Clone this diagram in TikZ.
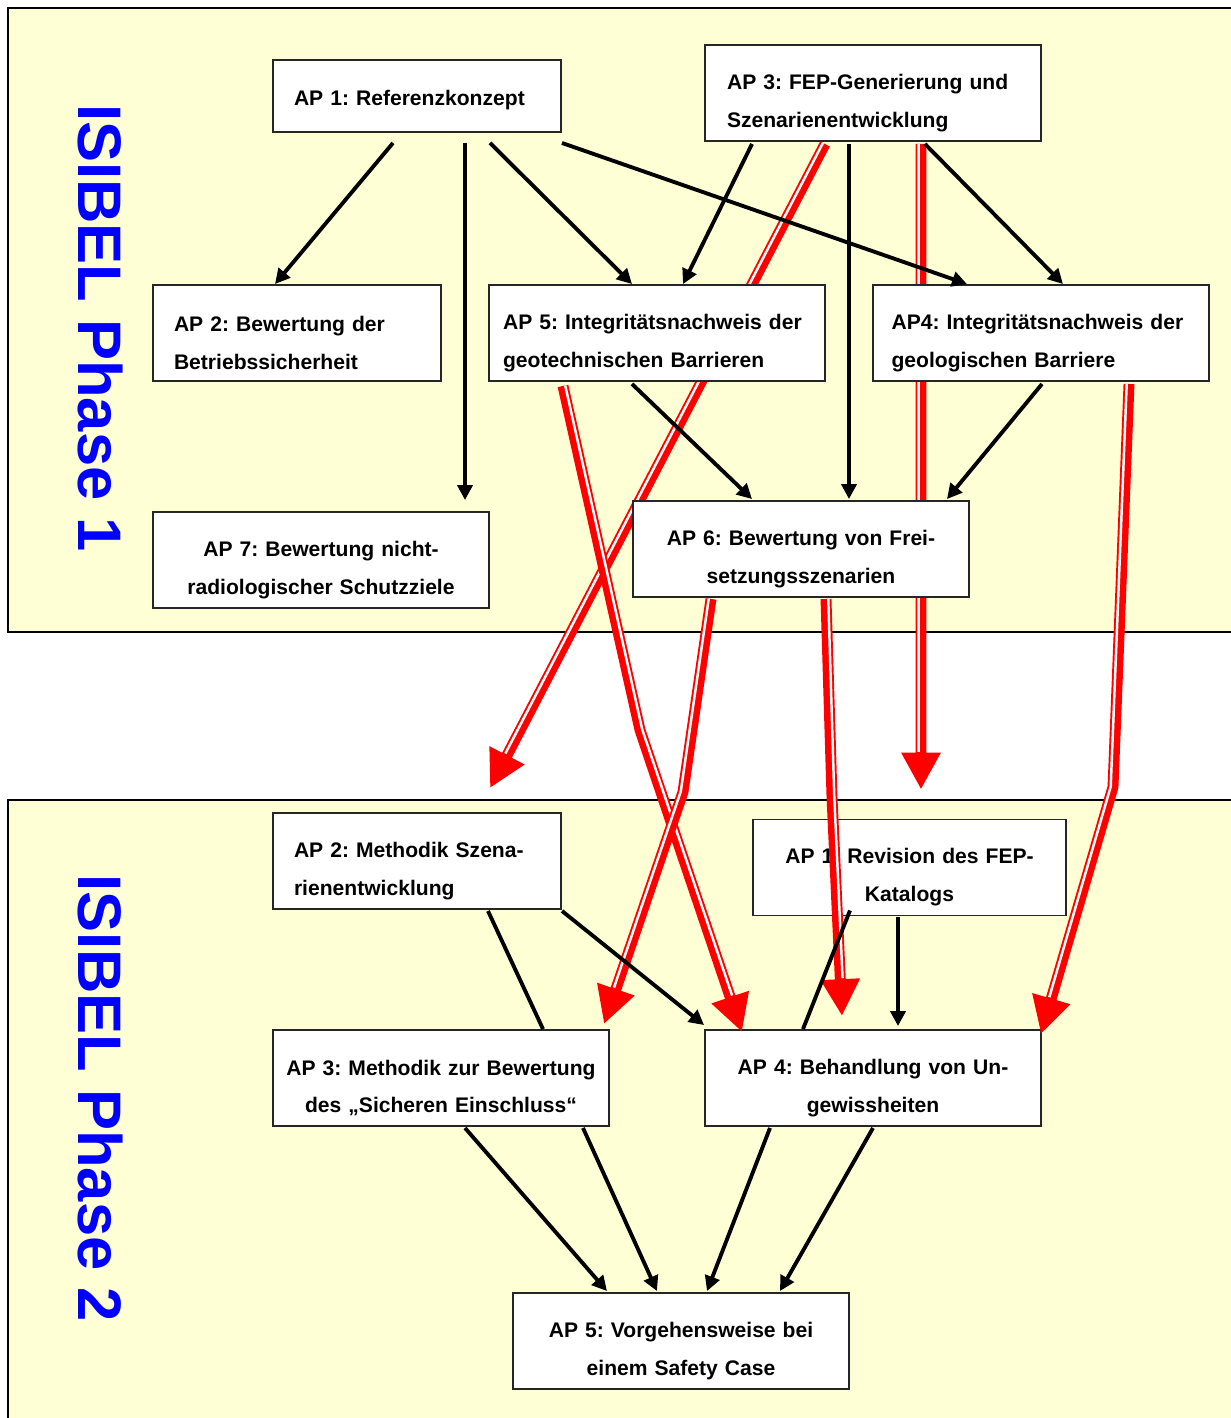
\documentclass[tikz,border=0pt]{standalone}
\usepackage{fontspec}
\setmainfont{Liberation Sans}
\usetikzlibrary{arrows.meta,calc}
\definecolor{paleyellow}{RGB}{255,255,213}
\pgfdeclarelayer{back}
\pgfdeclarelayer{mid}
\pgfsetlayers{back,mid,main}

\begin{document}
\begin{tikzpicture}[x=0.02cm, y=-0.02cm,
    panel/.style={fill=paleyellow, draw=black, line width=1.2pt},
    phase/.style={text=blue, font=\fontsize{35}{35}\selectfont\bfseries, rotate=-90, inner sep=0pt},
    apbox/.style={draw=black!85, fill=white, line width=1.1pt, font=\fontsize{12}{21.5}\selectfont\bfseries\frenchspacing, minimum height=1.92cm, inner ysep=0pt},
    twolines/.style={execute at begin node=\rule{0pt}{20pt}},
    leftbox/.style={apbox, twolines, align=left, inner xsep=0.42cm},
    midbox/.style={apbox, twolines, align=center, inner xsep=0.14cm, text width=6.44cm},
    flow/.style={-{Triangle[length=8.5pt,width=8.5pt]}, line width=2.2pt},
    link/.style={line width=2.2pt},
    redflow/.style={draw=red, line width=6.2pt, -{Triangle[length=21pt,width=21pt]}},
    redgap/.style={draw=white, line width=1.4pt}]
\useasboundingbox (0,0) rectangle (1231,1418);

\begin{pgfonlayer}{back}
        \draw[panel] (8,8) rectangle (1250,632);
        \draw[panel] (8,800) rectangle (1250,1430);
        \node[phase] (P1) at (100,328) {ISIBEL Phase 1};
        \node[phase] (P2) at (100,1098) {ISIBEL Phase 2};
        % Phase 2
        \node[leftbox, text width=4.92cm] (B2) at (417,861) {AP 2: Methodik Szena-\\rienentwicklung};
        \node[midbox, text width=5.98cm] (B1) at (909.5,867.5) {AP 1: Revision des FEP-\\Katalogs};
        \node[midbox] (B3) at (441,1078) {AP 3: Methodik zur Bewertung\\des „Sicheren Einschluss“};
        \node[midbox] (B4) at (873,1078) {AP 4: Behandlung von Un-\\gewissheiten};
        \node[midbox] (B5) at (681,1341) {AP 5: Vorgehensweise bei\\einem Safety Case};
\end{pgfonlayer}

        % Phase 1
        \node[apbox, align=left, inner xsep=0.42cm, text width=4.92cm, minimum height=1.44cm,
              execute at begin node=\rule{0pt}{13.3pt}] (A1) at (417,96) {AP 1: Referenzkonzept};
        \node[leftbox, text width=5.84cm, inner xsep=0.44cm] (A3) at (873,93) {AP 3: FEP-Generierung und\\Szenarienentwicklung};
        \node[leftbox, text width=4.92cm] (A2) at (297,333) {AP 2: Bewertung der\\Betriebssicherheit};
        \node[leftbox, text width=6.16cm, inner xsep=0.28cm] (A5) at (657,333) {AP 5: Integritätsnachweis der\\geotechnischen Barrieren};
        \node[leftbox, text width=5.98cm, inner xsep=0.37cm] (A4) at (1041,333) {AP4: Integritätsnachweis der\\geologischen Barriere};
        \node[midbox] (A7) at (321,560) {AP 7: Bewertung nicht-\\radiologischer Schutzziele};
        \node[midbox] (A6) at (801,549) {AP 6: Bewertung von Frei-\\setzungsszenarien};

        \coordinate (r1a) at ($(A3.south)+(-48,2)$);
        \coordinate (r1b) at ($(B2.north)+(73,-24)$);
        \coordinate (r2a) at ($(A3.south)+(48,2)$);
        \coordinate (r2b) at ($(B1.north)+(11.5,-29)$);
        \coordinate (r3a) at ($(A5.south)+(-94,4)$);
        \coordinate (r3m) at (640,730);
        \coordinate (r3b) at ($(B4.north)+(-131,3)$);
        \coordinate (r4a) at ($(A6.south)+(-90,1)$);
        \coordinate (r4m) at (683,792);
        \coordinate (r4b) at ($(B3.north)+(163,-5)$);
        \coordinate (r5a) at ($(A6.south)+(25,1)$);
        \coordinate (r5m) at (832,797);
        \coordinate (r5b) at ($(B4.north)+(-31,-13)$);
        \coordinate (r6a) at ($(A4.south)+(88,2)$);
        \coordinate (r6m) at (1113,787);
        \coordinate (r6b) at ($(B4.north east)+(-1,5)$);

\begin{pgfonlayer}{mid}
        \draw[redflow] (r1a) -- (r1b);
        \draw[redgap, shorten >=21.5pt] ($(r1a)!1.3pt!-90:(r1b)$) -- ($(r1b)!1.3pt!90:(r1a)$);
        \draw[redflow] (r2a) -- (r2b);
        \draw[redgap, shorten >=21.5pt] ($(r2a)!1.3pt!-90:(r2b)$) -- ($(r2b)!1.3pt!90:(r2a)$);
        \draw[redflow] (r3a) -- (r3m) -- (r3b);
        \draw[redgap] ($(r3a)!1.3pt!90:(r3m)$) -- ($(r3m)!1.3pt!-90:(r3a)$);
        \draw[redgap, shorten >=21.5pt] ($(r3m)!1.3pt!90:(r3b)$) -- ($(r3b)!1.3pt!-90:(r3m)$);
        \draw[redflow] (r4a) -- (r4m) -- (r4b);
        \draw[redgap] ($(r4a)!1.3pt!-90:(r4m)$) -- ($(r4m)!1.3pt!90:(r4a)$);
        \draw[redgap, shorten >=21.5pt] ($(r4m)!1.3pt!-90:(r4b)$) -- ($(r4b)!1.3pt!90:(r4m)$);
        \draw[redflow] (r5a) -- (r5m) -- (r5b);
        \draw[redgap] ($(r5a)!1.3pt!90:(r5m)$) -- ($(r5m)!1.3pt!-90:(r5a)$);
        \draw[redgap, shorten >=21.5pt] ($(r5m)!1.3pt!90:(r5b)$) -- ($(r5b)!1.3pt!-90:(r5m)$);
        \draw[redflow] (r6a) -- (r6m) -- (r6b);
        \draw[redgap] ($(r6a)!1.3pt!-90:(r6m)$) -- ($(r6m)!1.3pt!90:(r6a)$);
        \draw[redgap, shorten >=21.5pt] ($(r6m)!1.3pt!-90:(r6b)$) -- ($(r6b)!1.3pt!90:(r6m)$);
\end{pgfonlayer}

        \draw[flow] ($(A1.south)+(-24,10)$) -- ($(A2.north)+(-22,0)$);
        \draw[flow] ($(A1.south)+(48,10)$) -- ($(A7.north)+(144,-11)$);
        \draw[flow] ($(A1.south)+(73,10)$) -- ($(A5.north)+(-25,0)$);
        \draw[flow] ($(A1.south)+(145,10)$) -- ($(A4.north)+(-74,0)$);
        \draw[flow] ($(A3.south)+(-121,2)$) -- ($(A5.north)+(26,0)$);
        \draw[flow] ($(A3.south)+(-24,2)$) -- ($(A6.north)+(48,-1)$);
        \draw[flow] ($(A3.south)+(52,2)$) -- ($(A4.north)+(22,0)$);
        \draw[flow] ($(A5.south)+(-25,2)$) -- ($(A6.north)+(-49,-1)$);
        \draw[flow] ($(A4.south)+(1,2)$) -- ($(A6.north)+(146,-1)$);

        \draw[link] ($(B2.south)+(71,1)$) -- ($(B3.north)+(102,0)$);
        \draw[flow] ($(B2.south)+(145,1)$) -- ($(B4.north west)+(0,-4)$);
        \draw[link] ($(B1.south)+(-59.5,-6)$) -- ($(B4.north)+(-70,0)$);
        \draw[flow] ($(B1.south)+(-11.5,1)$) -- ($(B4.north)+(25,-3)$);
        \draw[flow] ($(B3.south)+(24,1)$) -- ($(B5.north)+(-74,-1)$);
        \draw[flow] ($(B3.south)+(142,1)$) -- ($(B5.north)+(-24,-1)$);
        \draw[flow] ($(B4.south)+(-103,1)$) -- ($(B5.north)+(26,-1)$);
        \draw[flow] ($(B4.south)+(0,1)$) -- ($(B5.north)+(99,-1)$);
\end{tikzpicture}
\end{document}
